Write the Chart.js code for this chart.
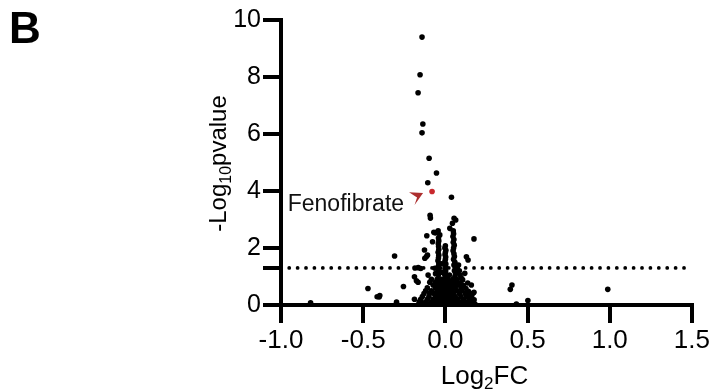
<!DOCTYPE html>
<html><head><meta charset="utf-8">
<script src="https://cdn.jsdelivr.net/npm/chart.js@4.4.1/dist/chart.umd.min.js"></script>
<style>html,body{margin:0;padding:0;background:#fff;}canvas{display:block;}</style>
</head><body>
<canvas id="c" width="712" height="392"></canvas>
<script>
// ---- data ----
const panelLetter = 'B';
const xTicks = [-1.0, -0.5, 0.0, 0.5, 1.0, 1.5];
const yTicks = [0, 2, 4, 6, 8, 10];
const thresholdY = 1.3;            // -log10(0.05)
const thresholdXRange = [-0.95, 1.5];
const fenofibrate = [[-0.081, 3.98]];
const fenofibrateLabel = 'Fenofibrate';
// isolated / upper compounds
const outliers = [
[-0.142,9.40],[-0.154,8.08],[-0.166,7.45],[-0.137,6.35],[-0.142,6.04],[-0.099,5.15],[-0.054,4.63],[-0.107,4.29],[0.037,3.78],
[-0.093,3.15],[-0.091,3.05],[0.027,2.69],[-0.070,2.55],[-0.078,2.22],[-0.113,2.43],[0.174,2.32],
[-0.127,1.93],[-0.109,1.75],[-0.115,1.70],[-0.125,1.64],[-0.309,1.72],[0.128,1.69],[0.138,1.58],
[-0.185,1.30],[-0.165,1.31],[-0.150,1.28],[0.118,1.11],[-0.105,1.05],[-0.188,0.99],[-0.176,0.85],[-0.166,0.80],
[0.136,0.77],[0.158,0.70],[0.405,0.70],[-0.255,0.65],[-0.471,0.58],[0.395,0.55],[0.988,0.55],
[0.174,0.45],[-0.399,0.33],[-0.415,0.29],[-0.403,0.28],[0.502,0.16],[-0.297,0.10],[-0.820,0.08],[0.432,0.03]
];
// left column of the main cluster
const clusterLeft = [
[-0.044,2.60],[-0.060,2.53],[-0.034,2.46],[-0.042,2.35],[-0.040,2.25],[-0.043,2.15],[-0.041,2.05],[-0.040,1.95],
[-0.044,1.85],[-0.040,1.75],[-0.042,1.65],[-0.045,1.55],[-0.040,1.45],[-0.043,1.35],[-0.064,1.29],[-0.040,1.25],
[-0.046,1.15],[-0.060,1.10],[-0.042,1.05]
];
// central column of the main cluster
const clusterCentre = [
[0.000,2.08],[-0.003,2.00],[0.003,1.92],[0.000,1.84],[-0.002,1.76],[0.002,1.68],[0.000,1.60],[-0.003,1.52],[0.003,1.44],
[0.000,1.36],[-0.002,1.28],[0.002,1.20],[0.000,1.12],[-0.003,1.04],[0.003,0.96],[-0.020,1.15],[0.025,1.05],[-0.025,1.45]
];
// right column of the main cluster
const clusterRight = [
[0.053,3.04],[0.063,2.98],[0.043,2.87],[0.048,2.60],[0.050,2.50],[0.046,2.40],[0.052,2.30],[0.048,2.20],[0.054,2.10],
[0.050,2.00],[0.047,1.90],[0.052,1.80],[0.055,1.70],[0.050,1.60],[0.058,1.50],[0.052,1.40],[0.080,1.40],[0.060,1.30],
[0.072,1.30],[0.055,1.20],[0.085,1.20],[0.062,1.10],[0.058,1.00],[0.090,1.05]
];
// broad base of the main cluster
const clusterBase = [
[-0.085,0.90],[-0.050,0.90],[-0.025,0.90],[-0.005,0.90],[0.015,0.90],[0.045,0.90],[0.070,0.90],[0.105,0.88],[0.098,0.94],
[-0.095,0.80],[-0.060,0.80],[-0.030,0.80],[-0.010,0.80],[0.010,0.80],[0.035,0.80],[0.062,0.80],[0.090,0.78],
[-0.075,0.70],[-0.045,0.70],[-0.020,0.70],[0.000,0.70],[0.020,0.70],[0.050,0.70],[0.080,0.70],[0.110,0.68],
[-0.110,0.60],[-0.060,0.60],[-0.035,0.60],[-0.012,0.60],[0.008,0.60],[0.030,0.60],[0.060,0.60],[0.095,0.60],[0.125,0.58],
[-0.120,0.50],[-0.085,0.50],[-0.050,0.50],[-0.025,0.50],[-0.005,0.50],[0.015,0.50],[0.040,0.50],[0.070,0.50],[0.100,0.50],[0.140,0.48],
[-0.095,0.41],[0.168,0.41],
[-0.130,0.40],[-0.070,0.40],[-0.040,0.40],[-0.018,0.40],[0.002,0.40],[0.022,0.40],[0.050,0.40],[0.085,0.40],[0.120,0.40],[0.150,0.38],
[-0.140,0.30],[-0.100,0.30],[-0.060,0.30],[-0.030,0.30],[-0.010,0.30],[0.010,0.30],[0.030,0.30],[0.060,0.30],[0.095,0.30],[0.130,0.30],[0.160,0.28],
[-0.188,0.20],[-0.150,0.20],[-0.110,0.20],[-0.075,0.20],[-0.045,0.20],[-0.020,0.20],[0.000,0.20],[0.020,0.20],[0.045,0.20],[0.075,0.20],[0.110,0.20],[0.145,0.20],[0.175,0.18],
[-0.160,0.10],[-0.120,0.10],[-0.085,0.10],[-0.055,0.10],[-0.030,0.10],[-0.008,0.10],[0.012,0.10],[0.035,0.10],[0.060,0.10],[0.090,0.10],[0.125,0.10],[0.160,0.10],
[-0.135,0.06],
[-0.100,0.03],[-0.060,0.03],[-0.030,0.03],[-0.010,0.03],[0.010,0.03],[0.030,0.03],[0.065,0.03],[0.100,0.03],[0.140,0.03],[0.180,0.03]
];

// ---- drawing ----
const FONT = "'Liberation Sans', Arial, Helvetica, sans-serif";
const toPts = arr => arr.map(p => ({x: p[0], y: p[1]}));
const compounds = [].concat(outliers, clusterLeft, clusterCentre, clusterRight, clusterBase);

function drawRich(ctx, parts, cx, baseY) {
  let total = 0;
  parts.forEach(p => { ctx.font = p.s + 'px ' + FONT; p.w = ctx.measureText(p.t).width; total += p.w; });
  let x = cx - total / 2;
  ctx.textAlign = 'left';
  ctx.textBaseline = 'alphabetic';
  parts.forEach(p => { ctx.font = p.s + 'px ' + FONT; ctx.fillText(p.t, x, baseY + (p.dy || 0)); x += p.w; });
}

const decor = {
  id: 'decor',
  afterDraw(chart) {
    const ctx = chart.ctx, ca = chart.chartArea;
    const xs = chart.scales.x, ys = chart.scales.y;
    ctx.save();
    ctx.fillStyle = '#000';
    ctx.font = 'bold 44px ' + FONT;
    ctx.textAlign = 'left'; ctx.textBaseline = 'alphabetic';
    ctx.fillText(panelLetter, 9, 43);
    drawRich(ctx, [{t:'Log', s:26}, {t:'2', s:17, dy:5}, {t:'FC', s:26}], (ca.left + ca.right) / 2 - 2, 384);
    ctx.save();
    ctx.translate(226, (ca.top + ca.bottom) / 2 + 1);
    ctx.rotate(-Math.PI / 2);
    drawRich(ctx, [{t:'-Log', s:24}, {t:'10', s:16, dy:5}, {t:'pvalue', s:24}], 0, 0);
    ctx.restore();
    const px = xs.getPixelForValue(fenofibrate[0][0]);
    const py = ys.getPixelForValue(fenofibrate[0][1]);
    ctx.fillStyle = '#ad2f2f';
    ctx.beginPath();
    ctx.moveTo(px - 9, py + 1.5);
    ctx.lineTo(px - 23, py + 0.8);
    ctx.lineTo(px - 15, py + 6);
    ctx.lineTo(px - 17.5, py + 13.5);
    ctx.closePath();
    ctx.fill();
    ctx.fillStyle = '#111';
    ctx.font = '23px ' + FONT;
    ctx.textAlign = 'right'; ctx.textBaseline = 'alphabetic';
    ctx.fillText(fenofibrateLabel, px - 28, py + 19);
    ctx.restore();
  }
};

new Chart(document.getElementById('c'), {
  type: 'scatter',
  data: {
    datasets: [
      { label: 'Fenofibrate', data: toPts(fenofibrate), order: 0,
        pointRadius: 2.8, pointBackgroundColor: '#c8282d', pointBorderWidth: 0 },
      { label: 'Compounds', data: toPts(compounds), order: 1,
        pointRadius: 2.8, pointBackgroundColor: '#000', pointBorderWidth: 0 },
      { type: 'line', label: 'p = 0.05',
        data: thresholdXRange.map(x => ({x: x, y: thresholdY})), order: 2,
        borderColor: '#000', borderWidth: 3.8, borderDash: [0, 8.4], borderCapStyle: 'round',
        pointRadius: 0, fill: false, tension: 0 }
    ]
  },
  options: {
    responsive: false, animation: false, events: [],
    layout: { padding: { left: 0, right: 19, top: 20, bottom: 0 } },
    plugins: { legend: { display: false }, tooltip: { enabled: false } },
    scales: {
      x: {
        type: 'linear', min: xTicks[0], max: xTicks[xTicks.length - 1],
        afterFit: s => { s.height = 87; },
        afterBuildTicks: s => { s.ticks = xTicks.map(v => ({value: v})); },
        border: { display: true, color: '#000', width: 4 },
        grid: { drawOnChartArea: false, drawTicks: true, tickLength: 18, lineWidth: 4, color: '#000' },
        ticks: { autoSkip: false, maxRotation: 0, padding: 2, color: '#000',
                 font: { family: FONT, size: 26 }, callback: v => Number(v).toFixed(1) }
      },
      y: {
        type: 'linear', min: yTicks[0], max: yTicks[yTicks.length - 1],
        afterFit: s => { s.width = 281; },
        afterBuildTicks: s => { s.ticks = yTicks.concat([thresholdY]).sort((a, b) => a - b).map(v => ({value: v})); },
        border: { display: true, color: '#000', width: 4 },
        grid: { drawOnChartArea: false, drawTicks: true, tickLength: 18, lineWidth: 4, color: '#000' },
        ticks: { autoSkip: false, padding: 2, color: '#000',
                 font: { family: FONT, size: 25 }, callback: v => (v === thresholdY ? '' : String(v)) }
      }
    }
  },
  plugins: [decor]
});
</script>
</body></html>
